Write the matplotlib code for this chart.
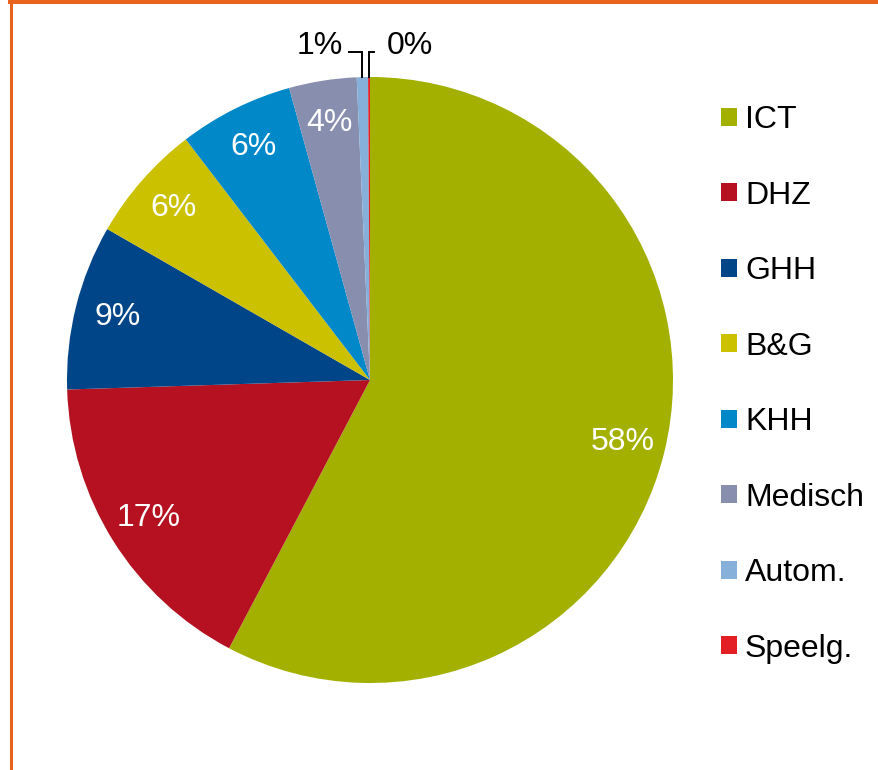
import numpy as np
import matplotlib
matplotlib.use("Agg")
import matplotlib.pyplot as plt
from matplotlib.lines import Line2D

plt.rcParams['font.family'] = ['Liberation Sans', 'DejaVu Sans']

sectors = ['ICT', 'DHZ', 'GHH', 'B&G', 'KHH', 'Medisch', 'Autom.', 'Speelg.']
shares = [57.7, 16.8, 8.8, 6.3, 6.1, 3.6, 0.6, 0.1]
colors = ['#A3B000', '#B51121', '#004587', '#CCC100', '#0088C9',
          '#878EAE', '#86B0DA', '#E31E24']
# slices whose label goes outside with a leader line: (side, elbow length, text gap)
outside = {'Autom.': (-1, -0.043, 0.023), 'Speelg.': (1, 0.017, 0.04)}

W, H = 879, 770
fig = plt.figure(figsize=(W / 100, H / 100), dpi=100)

# pie centre (370, 380) px, radius 303 px
cx, cy, r = 370, 380, 303
ax = fig.add_axes([(cx - r) / W, (H - cy - r) / H, 2 * r / W, 2 * r / H])

fs = 23
wedges, texts, autotexts = ax.pie(
    shares, colors=colors, startangle=90, counterclock=False,
    autopct='%.0f%%', pctdistance=0.86,
    textprops={'fontsize': fs, 'color': 'white'})
ax.set_xlim(-1, 1)
ax.set_ylim(-1, 1)
ax.set_aspect('equal')
ax.axis('off')

for w, t, name in zip(wedges, autotexts, sectors):
    if name not in outside:
        continue
    side, dx, gap = outside[name]
    theta = np.deg2rad((w.theta1 + w.theta2) / 2)
    x0 = np.cos(theta)
    y0 = np.sin(theta)
    yel = 1.083
    ax.plot([x0, x0, x0 + dx], [y0, yel, yel], color='black', lw=1.4,
            clip_on=False, solid_joinstyle='miter')
    t.set_color('black')
    t.set_position((x0 + dx + side * gap, yel + 0.02))
    t.set_ha('left' if side > 0 else 'right')
    t.set_va('center')

fig.legend(wedges, sectors, loc='upper left',
           bbox_to_anchor=(721 / W, 1 - 105 / H),
           frameon=False, fontsize=fs, handlelength=0.5,
           handleheight=0.5, handletextpad=0.25, labelspacing=1.425,
           borderpad=0, borderaxespad=0)

# orange frame (left and top edges visible)
orange = '#E8641E'
fig.add_artist(Line2D([10 / W, 1], [1 - 2 / H, 1 - 2 / H], color=orange,
                      lw=2.9, transform=fig.transFigure))
fig.add_artist(Line2D([11.5 / W, 11.5 / W], [0, 1], color=orange,
                      lw=2.2, transform=fig.transFigure))

fig.savefig('out.png', dpi=100)
